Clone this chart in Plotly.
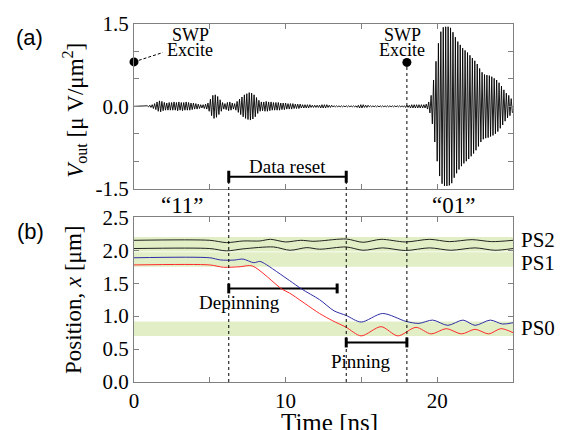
import numpy as np
import plotly.graph_objects as go

SERIF = "Liberation Serif, Times New Roman, serif"
SANS = "Liberation Sans, Arial, sans-serif"

# ---------------- (a) output voltage waveform (sampled every 0.08 ns from t = 0) ----------------
vout_dt = 0.08
vout_lead = [0.0, 0.0, 0.0, 0.0, 0.0, 0.0, 0.0, 0.0, 0.0, 0.0, 0.0]
vout_weak = [
    0.01, -0.01, 0.02, -0.02, 0.03,
    -0.04, 0.05, -0.06, 0.08, -0.09, 0.10, -0.10, 0.09, -0.08, 0.07, -0.07, 0.06, -0.07, 0.07, -0.07,
    0.07, -0.07, 0.08, -0.07, 0.07, -0.08, 0.08, -0.07, 0.07, -0.08, 0.07, -0.07, 0.08, -0.07, 0.07,
    -0.07, 0.06, -0.06, 0.06, -0.05,
    0.05, -0.05, 0.04, -0.04, 0.03, -0.03, 0.03, -0.04, 0.04, -0.05, 0.06,
    -0.09, 0.13, -0.17, 0.20, -0.22, 0.21, -0.20, 0.18, -0.15, 0.12, -0.09, 0.07, -0.05,
    0.05, -0.06, 0.07, -0.08, 0.08, -0.07, 0.06, -0.05, 0.05, -0.07, 0.09, -0.11,
    0.13, -0.15, 0.17, -0.19, 0.21, -0.22, 0.23, -0.24, 0.25, -0.25, 0.24, -0.23, 0.21, -0.19, 0.16,
    -0.13, 0.11, -0.09, 0.08,
    -0.08, 0.08, -0.09, 0.09, -0.09, 0.08, -0.08, 0.08, -0.07, 0.07, -0.07, 0.07, -0.07, 0.07, -0.07,
    0.06, -0.06, 0.06, -0.06, 0.06, -0.05, 0.05, -0.05, 0.05, -0.05, 0.05, -0.04, 0.04, -0.04, 0.04,
    -0.04, 0.04, -0.03, 0.03, -0.03, 0.03, -0.03, 0.03, -0.03, 0.03, -0.02, 0.02, -0.02, 0.02, -0.02,
    0.02, -0.02, 0.02,
]
vout_quiet = [
    -0.03, 0.03, -0.03, 0.03, -0.03, 0.03, -0.02, 0.02, -0.02, 0.02,
    -0.01, 0.01, -0.01, 0.01, -0.01, 0.01, -0.01, 0.01, -0.01, 0.01,
    -0.01, 0.01, -0.01, 0.01, -0.01, 0.01, -0.01, 0.01, -0.01, 0.01,
    -0.02, 0.02, -0.03, 0.03, -0.03, 0.03, -0.02, 0.02, -0.02, 0.02,
    -0.01, 0.01, -0.01, 0.01, -0.01, 0.01, -0.01, 0.01, -0.01, 0.01,
    -0.01, 0.01, -0.01, 0.01, -0.01, 0.01, -0.01, 0.01, -0.01, 0.01,
    -0.01, 0.01, -0.01, 0.01, -0.01, 0.01, -0.01, 0.01, -0.01, 0.01,
    -0.02, 0.02, -0.02, 0.02, -0.03, 0.03, -0.03, 0.03, -0.03, 0.03,
    -0.03, 0.03, -0.03, 0.03, -0.03, 0.03, -0.03,
]
vout_main = [
    0.04, -0.05, 0.08, -0.12, 0.20, -0.32, 0.48, -0.65, 0.82, -1.00,
    1.15, -1.27, 1.36, -1.41, 1.44, -1.45, 1.45, -1.45, 1.45, -1.44,
    1.43, -1.40, 1.35, -1.30, 1.26, -1.22, 1.18, -1.15, 1.12, -1.09,
    1.06, -1.04, 1.02, -1.00, 0.98, -0.96, 0.93, -0.91, 0.88, -0.86,
    0.83, -0.80, 0.77, -0.73, 0.69, -0.65, 0.62, -0.60, 0.58, -0.58,
    0.57, -0.57, 0.56, -0.55, 0.54, -0.53, 0.51, -0.50, 0.48, -0.46,
    0.43, -0.40, 0.37, -0.34, 0.30, -0.27, 0.24, -0.21, 0.20, -0.17,
    0.14, -0.12,
]
vout = vout_lead + vout_weak + vout_quiet + vout_main
vout_t = np.arange(len(vout)) * vout_dt

# SWP excitation markers
swp_t = [0.0, 18.0]
swp_v = [0.81, 0.80]

# ---------------- (b) domain-wall positions ----------------
blue_t = [0, 5.0, 5.7, 6.6, 7.2, 7.9, 8.3, 8.6, 10.26, 11.07, 12.24, 13.2, 14.0, 14.98, 16.4, 17.94,
          18.8, 19.7, 20.7, 21.7, 22.5, 23.5, 24.3, 25.0]
blue_x = [1.886, 1.886, 1.853, 1.851, 1.866, 1.811, 1.831, 1.80, 1.54, 1.41, 1.25, 1.08, 1.01, 0.91, 1.04, 0.92,
          0.89, 0.94, 0.86, 0.94, 0.86, 0.94, 0.88, 0.90]
red_t = [0, 5.0, 5.9, 7.0, 7.8, 9.76, 10.26, 12.24, 13.1, 14.0, 14.98, 16.3, 17.4, 18.6, 19.6, 20.6,
         21.6, 22.5, 23.4, 24.2, 25.0]
red_x = [1.777, 1.777, 1.742, 1.75, 1.762, 1.41, 1.35, 1.04, 0.93, 0.83, 0.70, 0.84, 0.70, 0.83, 0.73, 0.81,
         0.73, 0.80, 0.73, 0.81, 0.75]
upper_t = [0, 5.0, 6.1, 7.2, 8.3, 9.0, 10.0, 11.0, 11.8, 12.24, 14.0, 15.1, 16.3, 17.9, 19.5, 20.8,
           22.3, 23.6, 25.0]
upper_x = [2.151, 2.151, 2.116, 2.141, 2.141, 2.166, 2.126, 2.151, 2.136, 2.141, 2.171, 2.121, 2.166, 2.126,
           2.166, 2.131, 2.161, 2.131, 2.151]
lower_t = [0, 5.0, 6.1, 7.2, 9.2, 10.3, 11.4, 12.24, 14.0, 15.1, 16.4, 17.9, 19.5, 20.9, 22.5, 23.8, 25.0]
lower_x = [2.026, 2.026, 1.991, 2.021, 2.05, 2.0, 2.04, 2.016, 2.05, 2.0, 2.036, 1.996, 2.036, 2.0, 2.036,
           2.0, 2.026]

# Pinning-site bands
ps_names = ["PS2", "PS1", "PS0"]
ps_low = [1.98, 1.75, 0.70]
ps_high = [2.20, 1.97, 0.92]
ps_label_y = [2.16, 1.81, 0.82]

# Interval bars
reset_span = [6.25, 14.0]
reset_level = -1.284
depin_span = [6.25, 13.4]
depin_level = 1.42
pin_span = [14.0, 18.0]
pin_level = 0.60

TOP_DOM = [0.54, 1.0]
BOT_DOM = [0.0, 0.46]
TOP_RANGE = [-1.5, 1.5]
BOT_RANGE = [0.0, 2.5]


def top_paper(v):
    return TOP_DOM[0] + (v - TOP_RANGE[0]) / (TOP_RANGE[1] - TOP_RANGE[0]) * (TOP_DOM[1] - TOP_DOM[0])


def bot_paper(v):
    return BOT_DOM[0] + (v - BOT_RANGE[0]) / (BOT_RANGE[1] - BOT_RANGE[0]) * (BOT_DOM[1] - BOT_DOM[0])


fig = go.Figure()

# waveform
fig.add_trace(go.Scatter(x=vout_t, y=vout, mode="lines", line=dict(color="black", width=0.9),
                         xaxis="x", yaxis="y", hoverinfo="skip"))
# leader to label
fig.add_trace(go.Scatter(x=[0.0, 1.9], y=[0.81, 0.98], mode="lines",
                         line=dict(color="black", width=1, dash="3px,2px"), xaxis="x", yaxis="y",
                         cliponaxis=False))
fig.add_trace(go.Scatter(x=swp_t, y=swp_v, mode="markers", marker=dict(color="black", size=9),
                         xaxis="x", yaxis="y", cliponaxis=False))


def add_bar(span, level, cap, xa, ya):
    fig.add_trace(go.Scatter(x=span, y=[level, level], mode="lines", line=dict(color="black", width=2),
                             xaxis=xa, yaxis=ya, cliponaxis=False))
    for s in span:
        fig.add_trace(go.Scatter(x=[s, s], y=[level - cap, level + cap], mode="lines",
                                 line=dict(color="black", width=3), xaxis=xa, yaxis=ya, cliponaxis=False))


add_bar(reset_span, reset_level, 0.11, "x", "y")
add_bar(depin_span, depin_level, 0.075, "x2", "y2")
add_bar(pin_span, pin_level, 0.075, "x2", "y2")

# positions
for tt, xx, col in [(upper_t, upper_x, "#222222"), (lower_t, lower_x, "#222222"),
                    (blue_t, blue_x, "#2e2ea6"), (red_t, red_x, "#ff2a2a")]:
    fig.add_trace(go.Scatter(x=tt, y=xx, mode="lines", line=dict(color=col, width=1, shape="spline",
                                                                 smoothing=0.8),
                             xaxis="x2", yaxis="y2"))

shapes = []
for lo, hi in zip(ps_low, ps_high):
    shapes.append(dict(type="rect", xref="x2", yref="y2", x0=0, x1=25, y0=lo, y1=hi,
                       fillcolor="#e2efc6", line=dict(width=0), layer="below"))

# vertical dashed guides
for t, vtop in [(reset_span[0], reset_level), (reset_span[1], reset_level), (swp_t[1], swp_v[1])]:
    shapes.append(dict(type="line", xref="x2", yref="paper", x0=t, x1=t,
                       y0=bot_paper(0.0), y1=top_paper(vtop),
                       line=dict(color="black", width=1, dash="3px,3px")))

ann = []


def txt(text, x, y, size, xref="paper", yref="paper", family=SERIF, xanchor="center", **kw):
    ann.append(dict(text=text, x=x, y=y, xref=xref, yref=yref, showarrow=False,
                    xanchor=xanchor, yanchor="middle",
                    font=dict(family=family, size=size, color="black"), **kw))


txt("(a)", -0.277, 0.961, 22, family=SANS)
txt("(b)", -0.274, 0.419, 22, family=SANS)
txt("SWP", 3.75, 1.30, 18, "x", "y")
txt("Excite", 3.7, 1.03, 18, "x", "y")
txt("SWP", 17.7, 1.30, 18, "x", "y")
txt("Excite", 17.65, 1.03, 18, "x", "y")
txt("Data reset", 10.1, -1.09, 19, "x", "y")
txt("Depinning", 6.97, 1.2, 19, "x2", "y2")
txt("Pinning", 15.0, 0.31, 19, "x2", "y2")
txt("\u201c11\u201d", 0.127, 0.493, 23)
txt("\u201c01\u201d", 0.842, 0.493, 23)
for name, yy in zip(ps_names, ps_label_y):
    txt(name, 1.016, yy, 21, "paper", "y2", xanchor="left")
txt("Time [ns]", 0.517, -0.113, 25)
txt("<i>V</i><sub>out</sub> [\u03bc V/\u03bcm<sup>2</sup>]", -0.156, 0.760, 23, textangle=-90)
txt("Position, <i>x</i> [\u03bcm]", -0.161, 0.229, 23, textangle=-90)

axis_common = dict(showline=True, linecolor="#808080", linewidth=1, mirror="ticks", ticks="inside",
                   ticklen=5, tickcolor="#808080", showgrid=False, zeroline=False,
                   tickfont=dict(family=SERIF, size=21, color="black"))

fig.update_layout(
    width=569, height=430,
    margin=dict(l=134, r=56, t=19, b=48),
    paper_bgcolor="white", plot_bgcolor="white",
    showlegend=False,
    xaxis=dict(domain=[0, 1], anchor="y", range=[0, 25], tickvals=[5, 10, 15, 20],
               showticklabels=False, **axis_common),
    yaxis=dict(domain=TOP_DOM, anchor="x", range=TOP_RANGE,
               tickvals=[-1.5, -1, -0.5, 0, 0.5, 1, 1.5],
               ticktext=["-1.5", "", "", "0.0", "", "", "1.5"], **axis_common),
    xaxis2=dict(domain=[0, 1], anchor="y2", range=[0, 25], tickvals=[0, 5, 10, 15, 20],
                ticktext=["0", "", "10", "", "20"], **axis_common),
    yaxis2=dict(domain=BOT_DOM, anchor="x2", range=BOT_RANGE,
                tickvals=[0, 0.5, 1, 1.5, 2, 2.5],
                ticktext=["0.0", "0.5", "1.0", "1.5", "2.0", "2.5"], **axis_common),
    shapes=shapes,
    annotations=ann,
)

fig.write_html("out.html", config={"displayModeBar": False},
               post_script="document.body.style.margin='0';document.body.style.overflow='hidden';")
